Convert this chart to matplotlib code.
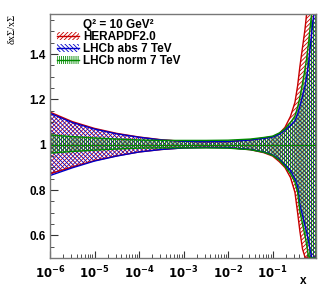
import numpy as np
import matplotlib.pyplot as plt
from matplotlib.patches import Patch
from matplotlib.lines import Line2D
from matplotlib.ticker import LogLocator, MultipleLocator, FixedFormatter, FixedLocator

plt.rcParams['font.family'] = ['Liberation Sans', 'DejaVu Sans']
plt.rcParams['font.weight'] = 'bold'
plt.rcParams['hatch.linewidth'] = 0.6

# -----------------------------
# DATA  (relative uncertainty bands)
# -----------------------------
logx = [-6.0, -5.5, -5.0, -4.5, -4.0, -3.5, -3.0, -2.5, -2.0, -1.5, -1.2,
        -1.0, -0.85, -0.725, -0.6, -0.5, -0.44, -0.388, -0.33, -0.276,
        -0.238, -0.2, -0.164, -0.126, -0.1, -0.074, -0.03]

hera_up = [1.144, 1.102, 1.072, 1.050, 1.034, 1.022, 1.015, 1.013, 1.014, 1.022, 1.030,
           1.036, 1.050, 1.076, 1.125, 1.187, 1.26, 1.346, 1.43, 1.507,
           1.58, 1.65, 1.72, 1.80, 1.85, 1.90, 2.00]
hera_dn = [0.872, 0.902, 0.930, 0.951, 0.968, 0.979, 0.986, 0.988, 0.987, 0.978, 0.965,
           0.950, 0.925, 0.900, 0.855, 0.790, 0.700, 0.617, 0.540, 0.505,
           0.48, 0.46, 0.44, 0.42, 0.41, 0.40, 0.38]

abs_up = [1.139, 1.098, 1.069, 1.048, 1.033, 1.021, 1.015, 1.013, 1.014, 1.021, 1.028,
          1.034, 1.046, 1.065, 1.085, 1.105, 1.135, 1.17, 1.215, 1.258,
          1.30, 1.35, 1.419, 1.49, 1.54, 1.58, 1.70]
abs_dn = [0.864, 0.898, 0.928, 0.950, 0.968, 0.979, 0.986, 0.988, 0.987, 0.979, 0.968,
          0.955, 0.935, 0.910, 0.885, 0.850, 0.818, 0.732, 0.690, 0.644,
          0.615, 0.58, 0.54, 0.505, 0.49, 0.47, 0.44]

norm_up = [1.043, 1.036, 1.030, 1.025, 1.021, 1.019, 1.019, 1.019, 1.020, 1.025, 1.032,
           1.038, 1.052, 1.070, 1.098, 1.127, 1.165, 1.21, 1.27, 1.332,
           1.38, 1.44, 1.507, 1.58, 1.65, 1.72, 1.85]
norm_dn = [0.963, 0.970, 0.976, 0.981, 0.985, 0.986, 0.986, 0.986, 0.985, 0.978, 0.967,
           0.953, 0.932, 0.905, 0.872, 0.835, 0.790, 0.704, 0.650, 0.600,
           0.56, 0.51, 0.48, 0.46, 0.45, 0.44, 0.42]

central = [1.0] * len(logx)

title = 'Q² = 10 GeV²'
labels = ["HERAPDF2.0", "LHCb abs 7 TeV", "LHCb norm 7 TeV"]
colors = ["#c80000", "#0000c8", "#008a00"]
hatches = ["////////", "\\\\\\\\\\\\\\\\", "||||||||"]

YMIN, YMAX = 0.5, 1.577

# -----------------------------
# FIGURE
# -----------------------------
fig = plt.figure(figsize=(3.32, 2.88), dpi=100)
ax = fig.add_axes([50 / 332, 1 - 258 / 288, 266 / 332, 244 / 288])

x = 10.0 ** np.array(logx)
bands = [(hera_up, hera_dn), (abs_up, abs_dn), (norm_up, norm_dn)]
for (up, dn), col, h in zip(bands, colors, hatches):
    up_c = np.clip(up, YMIN, YMAX)
    dn_c = np.clip(dn, YMIN, YMAX)
    ax.fill_between(x, dn_c, up_c, facecolor='none', edgecolor=col,
                    hatch=h, linewidth=0)
    ax.plot(x, up_c, color=col, lw=1.0)
    ax.plot(x, dn_c, color=col, lw=1.0)

for col in colors:
    ax.plot(x, central, color=col, lw=0.8)

ax.set_xscale('log')
ax.set_xlim(1e-6, 10 ** -0.027)
ax.set_ylim(YMIN, YMAX)

# ticks
ax.xaxis.set_major_locator(FixedLocator([1e-6, 1e-5, 1e-4, 1e-3, 1e-2, 1e-1]))
ax.xaxis.set_major_formatter(FixedFormatter([r'$\mathbf{10^{-6}}$', r'$\mathbf{10^{-5}}$',
                                             r'$\mathbf{10^{-4}}$', r'$\mathbf{10^{-3}}$',
                                             r'$\mathbf{10^{-2}}$', r'$\mathbf{10^{-1}}$']))
ax.xaxis.set_minor_locator(LogLocator(base=10, subs=np.arange(2, 10), numticks=20))
ax.yaxis.set_major_locator(FixedLocator([0.6, 0.8, 1.0, 1.2, 1.4]))
ax.yaxis.set_major_formatter(FixedFormatter(['0.6', '0.8', '1', '1.2', '1.4']))
ax.yaxis.set_minor_locator(MultipleLocator(0.05))

ax.tick_params(which='both', direction='in', top=False, right=False,
               labelsize=8.5, color='#333333')
ax.tick_params(axis='y', which='major', length=6, pad=3)
ax.tick_params(axis='y', which='minor', length=3)
ax.tick_params(axis='x', which='major', length=5, pad=5)
ax.tick_params(axis='x', which='minor', length=3)
for s in ax.spines.values():
    s.set_color('#777777')
    s.set_linewidth(1.0)

# axis titles
fig.text(12 / 332, 1 - 29 / 288, 'δxΣ/xΣ', rotation=90,
         ha='center', va='center', fontsize=7.5, fontweight='normal',
         family=['Liberation Serif', 'DejaVu Serif'])
fig.text(303 / 332, 1 - 281 / 288, 'x', ha='center', va='center', fontsize=8.5)

# legend (first row is the Q^2 title with an empty handle)
handles = [Line2D([], [], color='none')]
for col, h in zip(colors, hatches):
    handles.append((Patch(facecolor='none', edgecolor=col, hatch=h, linewidth=0),
                    Line2D([], [], color=col, lw=1.0)))
leg = ax.legend(handles, [title] + labels, loc='upper left',
                bbox_to_anchor=(57 / 332, 1 - 19 / 288), bbox_transform=fig.transFigure,
                frameon=False, fontsize=8.5, handlelength=1.9, handleheight=0.7,
                handletextpad=0.3, labelspacing=0.0, borderpad=0, borderaxespad=0)

fig.savefig('out.png', dpi=100)
